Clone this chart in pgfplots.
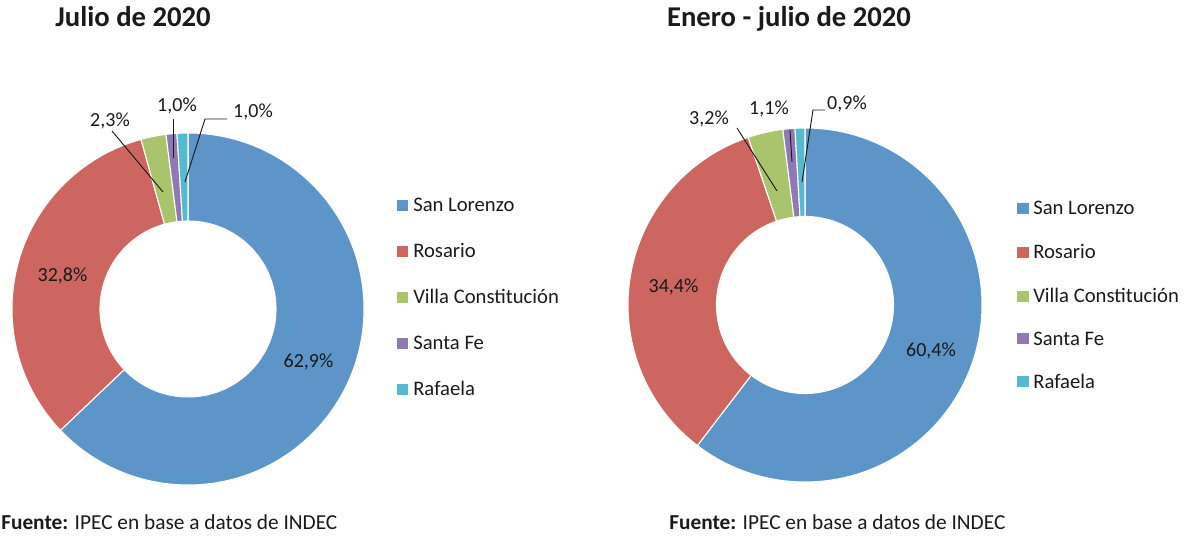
\documentclass[border=0pt]{standalone}
\usepackage{pgfplots}
\pgfplotsset{compat=1.18}
\usepackage{pgfplotstable}
\usepackage{fontspec}
\setmainfont{Carlito}
\usetikzlibrary{calc}
\definecolor{cSL}{HTML}{5D95C9}
\definecolor{cRO}{HTML}{CD6660}
\definecolor{cVC}{HTML}{A9C46C}
\definecolor{cSF}{HTML}{8F79B5}
\definecolor{cRA}{HTML}{55BAD0}
\definecolor{txt}{HTML}{1A1A1A}

\pgfplotstableread{
value
62.9
32.8
2.3
1.0
1.0
}\julio
\pgfplotstableread{
value
60.4
34.4
3.2
1.1
0.9
}\enero

\newcommand\computeangles[2]{%
  \gdef\cum{0}%
  \foreach \i in {0,...,4}{%
    \pgfplotstablegetelem{\i}{value}\of#1%
    \pgfmathsetmacro\a{90-3.6*\cum}%
    \pgfmathsetmacro\nc{\cum+\pgfplotsretval}%
    \pgfmathsetmacro\b{90-3.6*\nc}%
    \expandafter\xdef\csname #2A\i\endcsname{\a}%
    \expandafter\xdef\csname #2B\i\endcsname{\b}%
    \xdef\cum{\nc}%
  }}
\newcommand\SA[2]{\csname #1A#2\endcsname}
\newcommand\SB[2]{\csname #1B#2\endcsname}
% cx cy prefix index Ro(pt) Ri(pt) color
\newcommand\ring[7]{%
  \fill[#7,draw=white,line width=0.8pt]
   ($(axis cs:#1,#2)+({\SA{#3}{#4}}:#5pt)$) arc[start angle=\SA{#3}{#4}, end angle=\SB{#3}{#4}, radius=#5pt]
   -- ($(axis cs:#1,#2)+({\SB{#3}{#4}}:#6pt)$) arc[start angle=\SB{#3}{#4}, end angle=\SA{#3}{#4}, radius=#6pt] -- cycle;}

\begin{document}
\begin{tikzpicture}
\path[use as bounding box] (0,0) rectangle (894pt,403.5pt);
\computeangles{\julio}{J}
\computeangles{\enero}{E}
\begin{axis}[x=0.75pt,y=0.75pt,xmin=0,xmax=1192,ymin=0,ymax=538,
  hide axis, clip=false, anchor=origin, at={(0,0)}]
% left donut
\ring{188}{229}{J}{0}{132}{66}{cSL}
\ring{188}{229}{J}{1}{132}{66}{cRO}
\ring{188}{229}{J}{2}{132}{66}{cVC}
\ring{188}{229}{J}{3}{132}{66}{cSF}
\ring{188}{229}{J}{4}{132}{66}{cRA}
% right donut
\ring{805}{233}{E}{0}{132.75}{66.4}{cSL}
\ring{805}{233}{E}{1}{132.75}{66.4}{cRO}
\ring{805}{233}{E}{2}{132.75}{66.4}{cVC}
\ring{805}{233}{E}{3}{132.75}{66.4}{cSF}
\ring{805}{233}{E}{4}{132.75}{66.4}{cRA}
% leader lines
\draw[txt,line width=0.7pt] (axis cs:112,407) -- (axis cs:163,346);
\draw[txt,line width=0.7pt] (axis cs:173,419) -- (axis cs:173,380);
\draw[txt,line width=0.7pt] (axis cs:227,419) -- (axis cs:205,419) -- (axis cs:185,356);
\draw[txt,line width=0.7pt] (axis cs:737,410) -- (axis cs:777,347);
\draw[txt,line width=0.7pt] (axis cs:790,408) -- (axis cs:792,376);
\draw[txt,line width=0.7pt] (axis cs:825,428) -- (axis cs:813,428) -- (axis cs:802,356);
% data labels
\begin{scope}[every node/.style={font=\fontsize{15}{18}\selectfont, text=txt, inner sep=0pt, anchor=base}]
\node at (axis cs:308.5,170) {62,9\%};
\node at (axis cs:62.5,256) {32,8\%};
\node at (axis cs:110,411) {2,3\%};
\node at (axis cs:177,426) {1,0\%};
\node at (axis cs:253,420) {1,0\%};
\node at (axis cs:931,181) {60,4\%};
\node at (axis cs:673.5,245) {34,4\%};
\node at (axis cs:709,413) {3,2\%};
\node at (axis cs:769,423) {1,1\%};
\node at (axis cs:847,428) {0,9\%};
% titles
\node[font=\fontsize{21.5}{26}\selectfont\bfseries] at (axis cs:133,511) {Julio de 2020};
\node[font=\fontsize{21.5}{26}\selectfont\bfseries] at (axis cs:789,511) {Enero - julio de 2020};
% footers
\node[anchor=base west, font=\fontsize{16}{19}\selectfont] at (axis cs:1,8) {\textbf{Fuente:} IPEC en base a datos de INDEC};
\node[anchor=base west, font=\fontsize{16}{19}\selectfont] at (axis cs:669,8) {\textbf{Fuente:} IPEC en base a datos de INDEC};
% legends
\begin{scope}[every node/.append style={font=\fontsize{15.5}{18}\selectfont, anchor=base west}]
\node at (axis cs:413,326) {San Lorenzo};
\node at (axis cs:413,280) {Rosario};
\node at (axis cs:413,234) {Villa Constitución};
\node at (axis cs:413,188) {Santa Fe};
\node at (axis cs:413,142) {Rafaela};
\node at (axis cs:1033,323) {San Lorenzo};
\node at (axis cs:1033,279) {Rosario};
\node at (axis cs:1033,235) {Villa Constitución};
\node at (axis cs:1033,192.5) {Santa Fe};
\node at (axis cs:1033,149.5) {Rafaela};
\end{scope}
\end{scope}
\fill[cSL] (axis cs:397,327) rectangle (axis cs:408,338);
\fill[cRO] (axis cs:397,281) rectangle (axis cs:408,292);
\fill[cVC] (axis cs:397,235) rectangle (axis cs:408,246);
\fill[cSF] (axis cs:397,189) rectangle (axis cs:408,200);
\fill[cRA] (axis cs:397,143) rectangle (axis cs:408,154);
\fill[cSL] (axis cs:1017,324) rectangle (axis cs:1029,335);
\fill[cRO] (axis cs:1017,280) rectangle (axis cs:1029,291);
\fill[cVC] (axis cs:1017,236) rectangle (axis cs:1029,247);
\fill[cSF] (axis cs:1017,193.5) rectangle (axis cs:1029,204.5);
\fill[cRA] (axis cs:1017,150.5) rectangle (axis cs:1029,161.5);
\end{axis}
\end{tikzpicture}
\end{document}
